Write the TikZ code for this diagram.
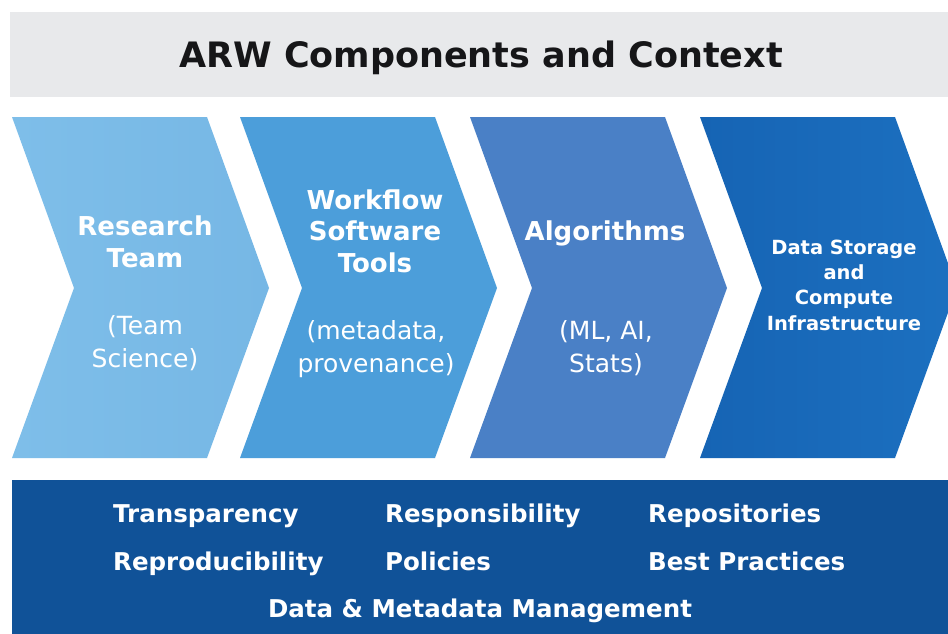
\documentclass[tikz,border=0pt]{standalone}
\usepackage{fontspec}
\setmainfont{DejaVu Sans}
\definecolor{titlebg}{RGB}{232,233,235}
\definecolor{chA}{RGB}{126,190,233}
\definecolor{chAr}{RGB}{118,183,229}
\definecolor{chB}{RGB}{76,158,218}
\definecolor{chC}{RGB}{74,128,198}
\definecolor{chD}{RGB}{22,100,180}
\definecolor{chDr}{RGB}{28,112,192}
\definecolor{bandbg}{RGB}{16,82,152}
\definecolor{titletxt}{RGB}{22,22,24}
\tikzset{
  x=1pt, y=-1pt,
  headtxt/.style={text=white, align=center, anchor=base, inner sep=0pt,
    font=\fontsize{26}{31.5}\selectfont\bfseries},
  subtxt/.style={text=white, align=center, anchor=base, inner sep=0pt,
    font=\fontsize{25}{33}\selectfont},
  smalltxt/.style={text=white, align=center, anchor=base, inner sep=0pt,
    font=\fontsize{19.5}{25.3}\selectfont\bfseries},
  bandtxt/.style={text=white, anchor=base west, inner sep=0pt,
    font=\fontsize{24.5}{30}\selectfont\bfseries},
}
\newcommand{\chevronpath}[1]{(#1,117) -- ++(195,0) -- ++(62,171) -- ++(-62,170) -- ++(-195,0) -- ++(62,-170) -- cycle}
\begin{document}
\begin{tikzpicture}
\useasboundingbox (0,0) rectangle (948,634);
\fill[white] (0,0) rectangle (948,634);
\begin{scope}
\clip (0,0) rectangle (948,634);
% title band
\fill[titlebg] (10,12) rectangle (948,97);
\node[anchor=base, inner sep=0pt, text=titletxt, font=\fontsize{35}{40}\selectfont\bfseries] (title) at (481,67) {ARW Components and Context};
% chevrons
\shade[left color=chA, right color=chAr] \chevronpath{12};
\fill[chB] \chevronpath{240};
\fill[chC] \chevronpath{470};
\shade[left color=chD, right color=chDr] \chevronpath{700};
% chevron texts (anchor = baseline of last line)
\node[headtxt] (rt) at (145,267) {Research\\Team};
\node[subtxt] (rts) at (145,367) {(Team\\Science)};
\node[headtxt] (wf) at (375,272) {Workflow\\Software\\Tools};
\node[subtxt] (wfs) at (376,372) {(metadata,\\provenance)};
\node[headtxt] (alg) at (605,240) {Algorithms};
\node[subtxt] (algs) at (606,372) {(ML, AI,\\Stats)};
\node[smalltxt] (dsc) at (844,330) {Data Storage\\and\\Compute\\Infrastructure};
% bottom band
\fill[bandbg] (12,480) rectangle (948,634);
\node[bandtxt] (tr) at (113,522) {Transparency};
\node[bandtxt] (rs) at (385,522) {Responsibility};
\node[bandtxt] (rp) at (648,522) {Repositories};
\node[bandtxt] (rd) at (113,570) {Reproducibility};
\node[bandtxt] (po) at (385,570) {Policies};
\node[bandtxt] (bp) at (648,570) {Best Practices};
\node[bandtxt, anchor=base] (dm) at (480,617) {Data \& Metadata Management};
\end{scope}
\end{tikzpicture}
\end{document}
